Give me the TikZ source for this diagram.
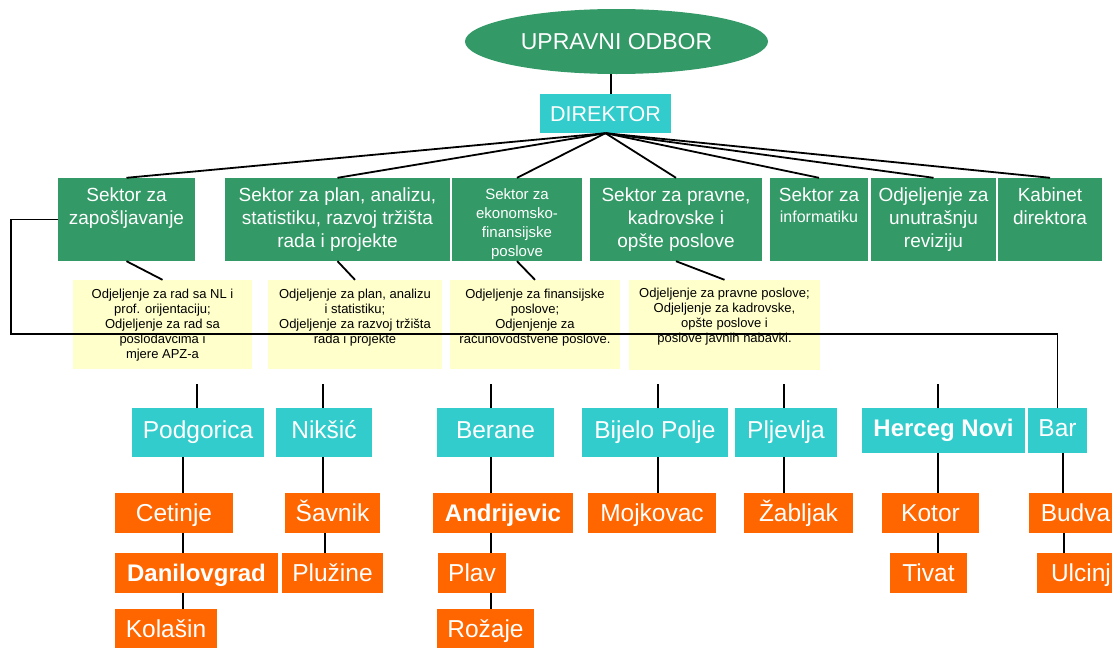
\documentclass[tikz,border=0pt]{standalone}
\usepackage{fontspec}
\setmainfont{Liberation Sans}
\usetikzlibrary{shapes.geometric}
\definecolor{grn}{HTML}{339966}
\definecolor{tea}{HTML}{33CCCC}
\definecolor{org}{HTML}{FF6600}
\definecolor{ylw}{HTML}{FFFFCC}
\begin{document}
\begin{tikzpicture}[x=1pt,y=-1pt,
  link/.style={line width=1.8pt, black},
  sector/.style={rectangle, fill=grn, inner sep=0pt, minimum height=83pt},
  stxt/.style={anchor=north, inner sep=0pt, align=center, text=white, font=\fontsize{19}{23}\selectfont},
  ybox/.style={rectangle, fill=ylw, inner sep=0pt, minimum height=89pt},
  ytxt/.style={anchor=north, inner sep=0pt, align=center, text=black, font=\fontsize{13}{15}\selectfont},
  tbox/.style={rectangle, fill=tea, text=white, inner sep=0pt, minimum height=49pt, font=\fontsize{24.5}{28}\selectfont, text height=18pt, text depth=6pt},
  obox/.style={rectangle, fill=org, text=white, inner sep=0pt, minimum height=40pt, font=\fontsize{24.5}{28}\selectfont, text height=17pt, text depth=0pt},
  bld/.style={font=\fontsize{24}{28}\selectfont\bfseries}
]
\useasboundingbox (0,0) rectangle (1112,648);
\clip (0,0) rectangle (1112,648);
\fill[white] (0,0) rectangle (1112,648);

% top
\node[ellipse, fill=grn, minimum width=303pt, minimum height=65pt, inner sep=0pt, text=white, font=\fontsize{23}{27}\selectfont] (ub) at (616.5,41.5) {UPRAVNI ODBOR};
\node[rectangle, fill=tea, text=white, inner sep=0pt, minimum width=131pt, minimum height=39pt, font=\fontsize{21.5}{26}\selectfont, text height=15.5pt, text depth=0pt] (dir) at (605.5,113.5) {DIREKTOR};

% sectors
\node[sector, minimum width=137pt] (s1) at (126.5,219.5) {};
\node[sector, minimum width=225pt] (s2) at (337.5,219.5) {};
\node[sector, minimum width=130pt] (s3) at (517,219.5) {};
\node[sector, minimum width=172pt] (s4) at (676,219.5) {};
\node[sector, minimum width=98pt] (s5) at (819,219.5) {};
\node[sector, minimum width=125pt] (s6) at (933.5,219.5) {};
\node[sector, minimum width=104pt] (s7) at (1050,219.5) {};

\node[stxt] (s1t) at ([yshift=-10pt]s1.north) {Sektor za\\zapošljavanje};
\node[stxt] (s2t) at ([yshift=-10pt]s2.north) {Sektor za plan, analizu,\\statistiku, razvoj tržišta\\rada i projekte};
\node[stxt, font=\fontsize{15}{19}\selectfont] (s3t) at ([yshift=-11pt]s3.north) {Sektor za\\ekonomsko-\\finansijske\\poslove};
\node[stxt] (s4t) at ([yshift=-10pt]s4.north) {Sektor za pravne,\\kadrovske i\\opšte poslove};
\node[stxt] (s5t) at ([yshift=-10pt]s5.north) {Sektor za\\[-2pt]{\fontsize{16}{20}\selectfont informatiku}};
\node[stxt] (s6t) at ([yshift=-10pt]s6.north) {Odjeljenje za\\unutrašnju\\reviziju};
\node[stxt] (s7t) at ([yshift=-10pt]s7.north) {Kabinet\\direktora};

% yellow boxes
\node[ybox, minimum width=179pt] (y1) at (162.5,324.5) {};
\node[ybox, minimum width=174pt] (y2) at (355,324.5) {};
\node[ybox, minimum width=170pt] (y3) at (535,324.5) {};
\node[ybox, minimum width=191pt, minimum height=90pt] (y4) at (724.5,325) {};

\node[ytxt] (y1t) at ([yshift=-9pt]y1.north) {Odjeljenje za rad sa NL i\\prof. orijentaciju;\\Odjeljenje za rad sa\\poslodavcima i\\mjere APZ-a};
\node[ytxt] (y2t) at ([yshift=-9pt]y2.north) {Odjeljenje za plan, analizu\\i statistiku;\\Odjeljenje za razvoj tržišta\\rada i projekte};
\node[ytxt] (y3t) at ([yshift=-9pt]y3.north) {Odjeljenje za finansijske\\poslove;\\Odjenjenje za\\računovodstvene poslove.};
\node[ytxt] (y4t) at ([yshift=-8pt]y4.north) {Odjeljenje za pravne poslove;\\Odjeljenje za kadrovske,\\opšte poslove i\\poslove javnih nabavki.};

% offices (teal)
\node[tbox, minimum width=132pt] (podg) at (198,432.5) {Podgorica};
\node[tbox, minimum width=96pt] (nik) at (324,432.5) {Nikšić};
\node[tbox, minimum width=117pt] (ber) at (495.5,432.5) {Berane};
\node[tbox, minimum width=146pt] (bp) at (655,432.5) {Bijelo Polje};
\node[tbox, minimum width=102pt] (plj) at (786,432.5) {Pljevlja};
\node[tbox, bld, minimum width=163pt, minimum height=45pt, text height=17pt, text depth=5pt] (hn) at (943.5,430.5) {Herceg Novi};
\node[tbox, minimum width=59pt, minimum height=45pt, text height=17pt, text depth=5pt] (bar) at (1057.5,430.5) {Bar};

% branches (orange)
\node[obox, minimum width=118pt] (cet) at (174,513) {Cetinje};
\node[obox, bld, minimum width=163pt] (dan) at (196.5,573) {Danilovgrad};
\node[obox, minimum width=102pt] (kol) at (166,629) {Kolašin};
\node[obox, minimum width=95pt] (sav) at (332.5,513) {Šavnik};
\node[obox, minimum width=101pt] (plu) at (332.5,573) {Plužine};
\node[obox, bld, minimum width=140pt] (and) at (503,513) {Andrijevic};
\node[obox, minimum width=68pt] (plav) at (472,573) {Plav};
\node[obox, minimum width=97pt] (roz) at (485.5,629) {Rožaje};
\node[obox, minimum width=128pt] (moj) at (652,513) {Mojkovac};
\node[obox, minimum width=109pt] (zab) at (798.5,513) {Žabljak};
\node[obox, minimum width=97pt] (kot) at (930.5,513) {Kotor};
\node[obox, minimum width=77pt] (tiv) at (928.5,573) {Tivat};
\node[obox, minimum width=93pt] (bud) at (1075.5,513) {Budva};
\node[obox, minimum width=88pt] (ulc) at (1081,573) {Ulcinj};

% connectors top
\draw[link] (dir.north -| 611,0) -- (ub.south -| 611,0);
\foreach \s in {s1,s2,s3,s4,s5,s6,s7} \draw[link] (dir.south) -- (\s.north);
\draw[link] (s1.south) -- (y1.north);
\draw[link] (s2.south) -- (y2.north);
\draw[link] (s3.south) -- (y3.north);
\draw[link] (s4.south) -- (y4.north);

% long connector to Bar
\draw[link] (s1.west) -| (11,334) -| (bar.north);

% free-ended verticals into offices
\coordinate (tp1) at (197,384);
\coordinate (tp2) at (323,384);
\coordinate (tp3) at (491,384);
\coordinate (tp4) at (658,384);
\coordinate (tp5) at (784,384);
\coordinate (tp6) at (938,384);
\draw[link] (tp1) -- (tp1 |- podg.north);
\draw[link] (tp2) -- (tp2 |- nik.north);
\draw[link] (tp3) -- (tp3 |- ber.north);
\draw[link] (tp4) -- (tp4 |- bp.north);
\draw[link] (tp5) -- (tp5 |- plj.north);
\draw[link] (tp6) -- (tp6 |- hn.north);

% office -> branches
\draw[link] (183,0 |- podg.south) -- (183,0 |- cet.north);
\draw[link] (183,0 |- cet.south) -- (183,0 |- dan.north);
\draw[link] (183,0 |- dan.south) -- (183,0 |- kol.north);
\draw[link] (323,0 |- nik.south) -- (323,0 |- sav.north);
\draw[link] (325,0 |- sav.south) -- (325,0 |- plu.north);
\draw[link] (491,0 |- ber.south) -- (491,0 |- and.north);
\draw[link] (491,0 |- and.south) -- (491,0 |- plav.north);
\draw[link] (491,0 |- plav.south) -- (491,0 |- roz.north);
\draw[link] (658,0 |- bp.south) -- (658,0 |- moj.north);
\draw[link] (784,0 |- plj.south) -- (784,0 |- zab.north);
\draw[link] (938,0 |- hn.south) -- (938,0 |- kot.north);
\draw[link] (938,0 |- kot.south) -- (938,0 |- tiv.north);
\draw[link] (1063,0 |- bar.south) -- (1063,0 |- bud.north);
\draw[link] (1064,0 |- bud.south) -- (1064,0 |- ulc.north);
\end{tikzpicture}
\end{document}
